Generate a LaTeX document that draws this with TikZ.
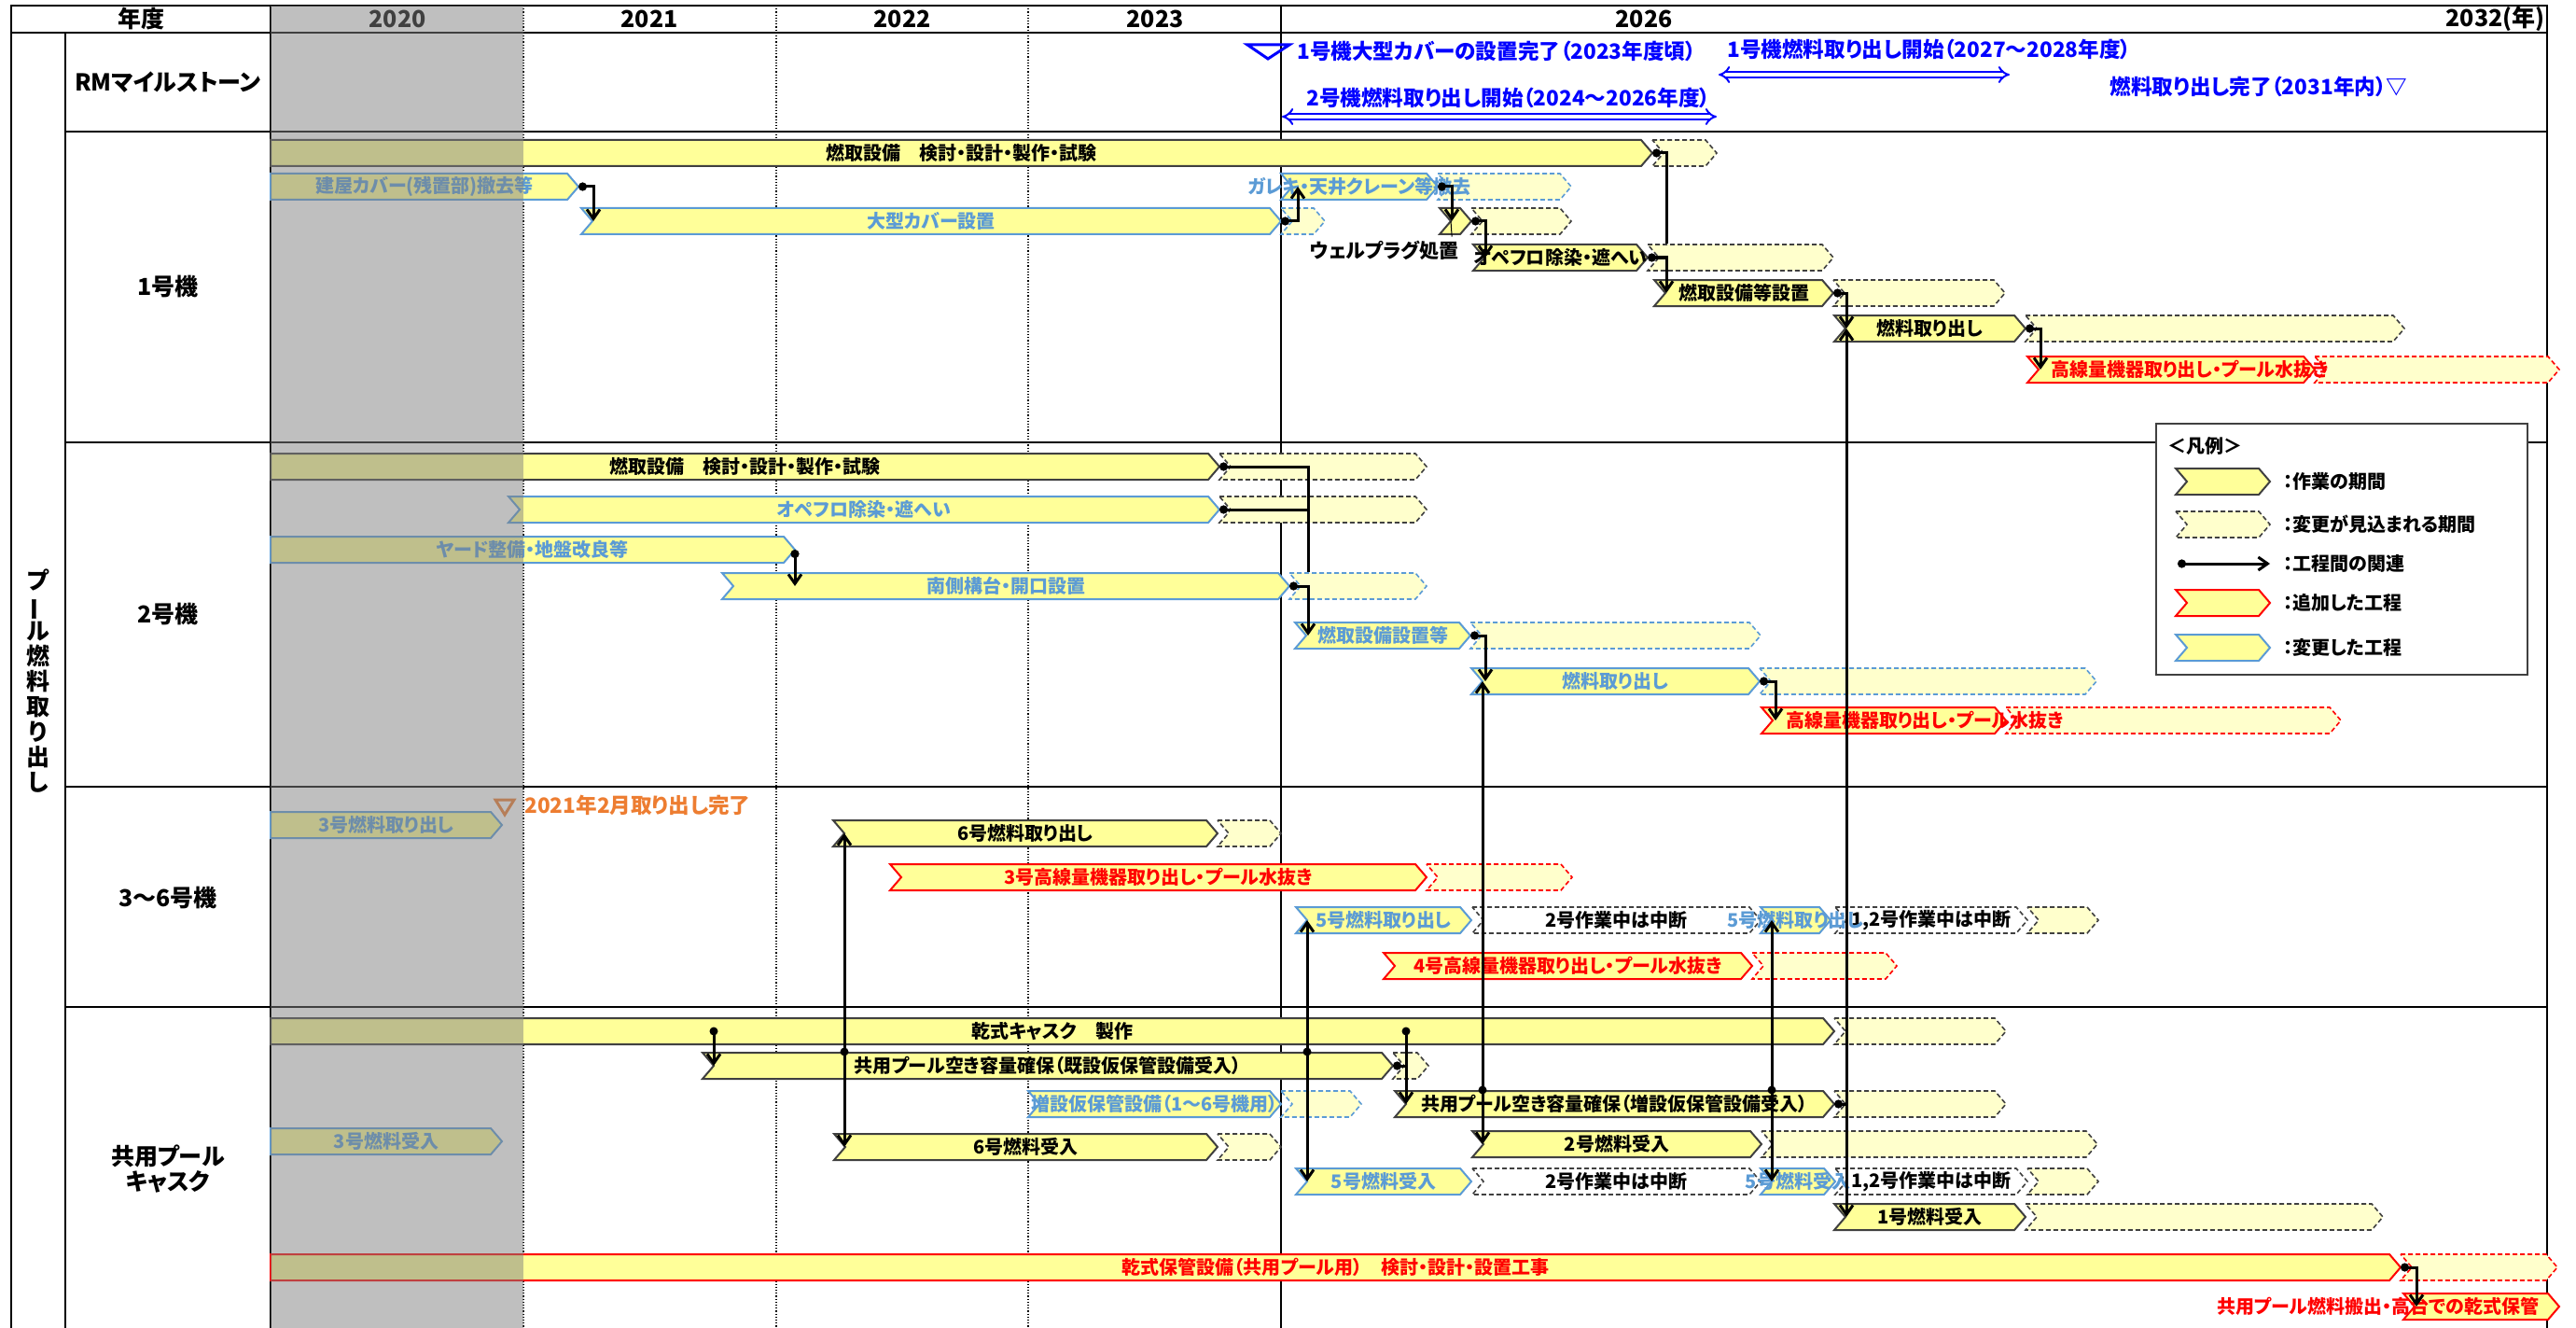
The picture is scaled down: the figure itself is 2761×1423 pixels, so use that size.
\documentclass[tikz,border=0pt]{standalone}
\usepackage{fontspec}
\setmainfont{Noto Sans CJK JP}[RawFeature=+palt]
\usepackage{tikz}
\usetikzlibrary{arrows.meta,calc}
\definecolor{barY}{HTML}{FFFF99}
\definecolor{extY}{HTML}{FFFFCC}
\definecolor{chgB}{HTML}{5B9BD5}
\definecolor{outK}{HTML}{404040}
\definecolor{mileB}{HTML}{0000FF}
\definecolor{orgT}{HTML}{ED7D31}
\definecolor{redR}{HTML}{FF0000}
\newcommand{\pbar}[7]{%
  \draw[#1] (#3,#5-14) -- (#4-12,#5-14) -- (#4,#5) -- (#4-12,#5+14) -- (#3,#5+14) -- (#3+#6,#5) -- cycle;
  \coordinate (#2-in) at (#3+#6,#5);
  \coordinate (#2-tip) at (#4,#5);
  \node[bartext,#1,draw=none,fill=none] (#2) at ({(#3+#4)/2},#5) {#7};}

\begin{document}
\begin{tikzpicture}[x=0.5pt, y=-0.5pt,
    bartext/.style={font=\bfseries\fontsize{10}{11}\selectfont, inner sep=0pt, minimum height=14pt},
    work/.style={draw=outK, fill=barY, text=black, line width=1pt},
    changed/.style={draw=chgB, fill=barY, text=chgB, line width=1pt},
    added/.style={draw=redR, fill=barY, text=redR, line width=1pt},
    expect/.style={draw=outK, fill=extY, line width=0.8pt, dash pattern=on 2.5pt off 1.5pt},
    expectchg/.style={expect, draw=chgB},
    expectadd/.style={expect, draw=redR},
    suspend/.style={expect, fill=white, text=black},
    dep/.style={line width=1.5pt, arrows={Circle[length=4.5pt]-Straight Barb[length=5pt,width=7pt]}},
    depdot/.style={line width=1.5pt, arrows={Circle[length=4.5pt]-}},
    deparr/.style={line width=1.5pt, arrows={-Straight Barb[length=5pt,width=7pt]}},
    unitlbl/.style={font=\bfseries\fontsize{12.5}{13.5}\selectfont, align=center, inner sep=0pt},
    miletext/.style={font=\bfseries\fontsize{11.3}{12}\selectfont, text=mileB, anchor=west, inner sep=0pt},
    milespan/.style={draw=mileB, double=white, double distance=2pt, line width=1pt, arrows={Implies-Implies}},
    legtext/.style={font=\bfseries\fontsize{10}{11}\selectfont, anchor=west, inner sep=0pt}]
  \useasboundingbox (0,0) rectangle (2761,1423);
  \draw[line width=1pt] (12,1423) -- (12,6) -- (2730,6) -- (2730,1423);
  \draw[line width=1pt] (12,35) -- (2730,35);
  \draw[line width=0.6pt] (70,35) -- (70,1423);
  \draw[line width=0.8pt] (290,6) -- (290,1423);
  \draw[line width=0.6pt] (1373,6) -- (1373,1423);
  \foreach \xx in {561,832,1102}
    \draw[line width=0.6pt, densely dotted] (\xx,6) -- (\xx,1423);
  \foreach \yy in {141,474,843,1079}
    \draw[line width=0.6pt] (70,\yy) -- (2730,\yy);

  \node[unitlbl] (hdYear) at (151,20) {年度};
  \foreach \yr/\xx in {2020/426,2021/696,2022/967,2023/1238,2026/1762}
    \node[unitlbl] (hd\yr) at (\xx,20) {\yr};
  \node[unitlbl, anchor=east] (hd2032) at (2728,20) {2032(年)};
  \node[unitlbl] (rowPool) at (41,730) {プ\\\rotatebox[origin=c]{90}{ー}\\ル\\燃\\料\\取\\り\\出\\し};
  \node[unitlbl] (rowRM) at (180,88) {RMマイルストーン};
  \node[unitlbl] (row1) at (180,307) {1号機};
  \node[unitlbl] (row2) at (180,658) {2号機};
  \node[unitlbl] (row36) at (180,962) {3～6号機};
  \node[unitlbl] (rowCP) at (180,1253) {共用プール\\キャスク};

  \draw[mileB, line width=1.5pt] (1337,48) -- (1382,48) -- (1359,63) -- cycle;
  \node[miletext] (ms1) at (1390,55) {1号機大型カバーの設置完了（2023年度頃）};
  \node[miletext] (ms2) at (1400,105) {2号機燃料取り出し開始（2024～2026年度）};
  \coordinate (ms2a) at (1374,125);
  \coordinate (ms2b) at (1840,125);
  \draw[milespan] (ms2a) -- (ms2b);
  \node[miletext] (ms3) at (1851,53) {1号機燃料取り出し開始（2027～2028年度）};
  \coordinate (ms3a) at (1842,80);
  \coordinate (ms3b) at (2154,80);
  \draw[milespan] (ms3a) -- (ms3b);
  \node[miletext] (ms4) at (2261,93) {燃料取り出し完了（2031年内）▽};

  \pbar{expect}{aFuelX}{1771}{1840}{164}{12}{}
  \pbar{expectchg}{aBigX}{1373}{1420}{237}{12}{}
  \pbar{expectchg}{aDebX}{1541}{1684}{200}{12}{}
  \pbar{expect}{aPlugX}{1577}{1684}{237}{12}{}
  \pbar{expect}{aOflX}{1766}{1965}{276}{12}{}
  \pbar{expect}{aInstX}{1965}{2149}{314}{12}{}
  \pbar{expect}{aRemX}{2171}{2577}{352}{12}{}
  \pbar{expectadd}{aHdX}{2481}{2743}{396}{12}{}
  \pbar{work}{aFuel}{290}{1771}{164}{0}{燃取設備　検討・設計・製作・試験}
  \pbar{changed}{aCov}{290}{620}{200}{0}{建屋カバー(残置部)撤去等}
  \pbar{changed}{aBig}{623}{1373}{237}{12}{大型カバー設置}
  \pbar{changed}{aDeb}{1373}{1541}{200}{12}{ガレキ・天井クレーン等撤去}
  \pbar{work}{aPlug}{1543}{1577}{237}{12}{}
  \pbar{work}{aOfl}{1579}{1766}{276}{12}{オペフロ除染・遮へい}
  \pbar{work}{aInst}{1773}{1965}{314}{12}{燃取設備等設置}
  \pbar{work}{aRem}{1966}{2171}{352}{12}{燃料取り出し}
  \pbar{added}{aHd}{2173}{2481}{396}{12}{}
  \node[bartext, text=redR] (aHdT) at (2347,396) {高線量機器取り出し・プール水抜き};
  \node[bartext, font=\bfseries\fontsize{10.5}{11}\selectfont] (wlab) at (1484,268) {ウェルプラグ処置};
  \draw[line width=0.5pt] ([xshift=-4pt]wlab.north east) -- (aPlug-in);

  \pbar{expect}{bFuelX}{1307}{1529}{500}{12}{}
  \pbar{expect}{bOflX}{1307}{1529}{546}{12}{}
  \pbar{expectchg}{bSouthX}{1382}{1529}{628}{12}{}
  \pbar{expectchg}{bInstX}{1576}{1887}{681}{12}{}
  \pbar{expectchg}{bRemX}{1886}{2247}{730}{12}{}
  \pbar{expectadd}{bHdX}{2150}{2509}{772}{12}{}
  \pbar{work}{bFuel}{290}{1307}{500}{0}{燃取設備　検討・設計・製作・試験}
  \pbar{changed}{bOfl}{545}{1307}{546}{12}{オペフロ除染・遮へい}
  \pbar{changed}{bYard}{290}{852}{589}{0}{ヤード整備・地盤改良等}
  \pbar{changed}{bSouth}{774}{1382}{628}{12}{南側構台・開口設置}
  \pbar{changed}{bInst}{1388}{1576}{681}{12}{燃取設備設置等}
  \pbar{changed}{bRem}{1577}{1886}{730}{12}{燃料取り出し}
  \pbar{added}{bHd}{1888}{2150}{772}{12}{}
  \node[bartext, text=redR] (bHdT) at (2063,772) {高線量機器取り出し・プール水抜き};

  \pbar{expect}{c6RemX}{1305}{1373}{893}{12}{}
  \pbar{expectadd}{c3HdX}{1529}{1685}{940}{12}{}
  \pbar{suspend}{c5Halt}{1578}{1887}{986}{12}{2号作業中は中断}
  \pbar{suspend}{c5HaltB}{1967}{2173}{986}{12}{1,2号作業中は中断}
  \pbar{expect}{c5X}{2173}{2249}{986}{12}{}
  \pbar{expectadd}{c4HdX}{1878}{2033}{1035}{12}{}
  \pbar{changed}{c3Rem}{290}{538}{884}{0}{3号燃料取り出し}
  \pbar{work}{c6Rem}{893}{1305}{893}{12}{6号燃料取り出し}
  \pbar{added}{c3Hd}{954}{1529}{940}{12}{3号高線量機器取り出し・プール水抜き}
  \pbar{changed}{c5Rem}{1389}{1577}{986}{12}{5号燃料取り出し}
  \pbar{changed}{c5RemB}{1887}{1962}{986}{12}{5号燃料取り出し}
  \pbar{added}{c4Hd}{1483}{1878}{1035}{12}{4号高線量機器取り出し・プール水抜き}
  \draw[orgT, line width=1.5pt] (531,857) -- (551,857) -- (541,873) -- cycle;
  \node[miletext, text=orgT] (done3) at (562,863) {2021年2月取り出し完了};

  \pbar{expect}{dCaskX}{1966}{2150}{1105}{12}{}
  \pbar{expect}{dOldX}{1493}{1531}{1142}{12}{}
  \pbar{expectchg}{dTmpX}{1373}{1459}{1183}{12}{}
  \pbar{expect}{dNewX}{1966}{2150}{1183}{12}{}
  \pbar{expect}{d6InX}{1305}{1373}{1229}{12}{}
  \pbar{expect}{d2InX}{1888}{2248}{1226}{12}{}
  \pbar{suspend}{d5Halt}{1578}{1887}{1266}{12}{2号作業中は中断}
  \pbar{suspend}{d5HaltB}{1967}{2173}{1266}{12}{1,2号作業中は中断}
  \pbar{expect}{d5X}{2173}{2249}{1266}{12}{}
  \pbar{expect}{d1InX}{2171}{2554}{1304}{12}{}
  \pbar{expectadd}{dDryX}{2573}{2741}{1358}{12}{}
  \pbar{work}{dCask}{290}{1966}{1105}{0}{乾式キャスク　製作}
  \pbar{work}{dOld}{753}{1493}{1142}{12}{共用プール空き容量確保（既設仮保管設備受入）}
  \pbar{changed}{dTmp}{1102}{1373}{1183}{12}{増設仮保管設備（1～6号機用）}
  \pbar{work}{dNew}{1495}{1966}{1183}{12}{共用プール空き容量確保（増設仮保管設備受入）}
  \pbar{changed}{d3In}{290}{538}{1223}{0}{3号燃料受入}
  \pbar{work}{d6In}{894}{1305}{1229}{12}{6号燃料受入}
  \pbar{work}{d2In}{1578}{1888}{1226}{12}{2号燃料受入}
  \pbar{changed}{d5In}{1389}{1577}{1266}{12}{5号燃料受入}
  \pbar{changed}{d5InB}{1887}{1967}{1266}{12}{5号燃料受入}
  \pbar{work}{d1In}{1966}{2171}{1304}{12}{1号燃料受入}
  \pbar{added}{dDry}{290}{2573}{1358}{0}{乾式保管設備（共用プール用）　検討・設計・設置工事}
  \pbar{added}{dOut}{2576}{2743}{1400}{12}{}
  \node[bartext, text=redR, anchor=east] (dOutT) at (2722,1400) {共用プール燃料搬出・高台での乾式保管};

  \draw[depdot] (aFuel-tip) -- ++(15,0) coordinate (k1) -- (k1 |- aOflX.north);
  \draw[dep] (aCov-tip) -- ++(16,0) coordinate (k2) -- (k2 |- aBig);
  \draw[dep] (aBig-tip) -- ++(18,0) coordinate (k3) -- (k3 |- aDeb);
  \draw[dep] (aDeb-tip) -- ++(15,0) coordinate (k4) -- (k4 |- aPlug);
  \draw[dep] (aPlug-tip) -- ++(15,0) coordinate (k5) -- (k5 |- aOfl);
  \draw[dep] (aOfl-tip) -- ++(20,0) coordinate (k6) -- (k6 |- aInst);
  \draw[dep] (aInst-tip) -- ++(14,0) coordinate (k7) -- (k7 |- aRem);
  \draw[dep] (aRem-tip) -- ++(16,0) coordinate (k8) -- (k8 |- aHd);

  \draw[depdot] (bFuel-tip) -- ++(95,0) coordinate (k9) -- (k9 |- bSouthX.north);
  \draw[depdot] (bOfl-tip) -- (k9 |- bOfl);
  \draw[dep] (bYard-tip) -- (bYard-tip |- bSouth);
  \draw[dep] (bSouth-tip) -- ++(20,0) coordinate (k12) -- (k12 |- bInst);
  \draw[dep] (bInst-tip) -- ++(16,0) coordinate (k13) -- (k13 |- bRem);
  \draw[dep] (bRem-tip) -- ++(17,0) coordinate (k14) -- (k14 |- bHd);

  \coordinate (p6) at (c6Rem-in |- dOld.north);
  \coordinate (p5) at (c5Rem-in |- dOld.north);
  \coordinate (p2) at (bRem-in |- dNew.north);
  \coordinate (p5b) at (c5RemB-in |- dNew.north);
  \coordinate (q1) at (dOld-in |- dCask);
  \coordinate (q2) at (dNew-in |- dCask);
  \foreach \pp in {p6,p5,p2,p5b,q1,q2}
    \fill (\pp) circle (4.5);
  \draw[deparr] (p6) -- (p6 |- c6Rem);
  \draw[deparr] (p6) -- (p6 |- d6In);
  \draw[deparr] (p5) -- (p5 |- c5Rem);
  \draw[deparr] (p5) -- (p5 |- d5In);
  \draw[deparr] (p2) -- (p2 |- bRem);
  \draw[deparr] (p2) -- (p2 |- d2In);
  \draw[deparr] (p5b) -- (p5b |- c5RemB);
  \draw[deparr] (p5b) -- (p5b |- d5InB);
  \draw[depdot] (dNew-tip) -- ++(13,0) coordinate (k19);
  \draw[deparr] (k19) -- (k19 |- aRem);
  \draw[deparr] (k19) -- (k19 |- d1In);
  \draw[deparr] (q1) -- (q1 |- dOld);
  \draw[deparr] (q2) -- (q2 |- dNew);
  \draw[depdot] (dOld-tip) -- (dOld-tip -| q2);
  \draw[dep] (dDry-tip) -- ++(17,0) coordinate (k22) -- (k22 |- dOut);

  \draw[draw=outK, fill=white, line width=0.6pt] (2311,454) rectangle (2709,723);
  \node[legtext] (lgTitle) at (2323,478) {＜凡例＞};
  \pbar{work}{lg1}{2332}{2433}{516}{12}{}
  \pbar{expect}{lg2}{2332}{2433}{562}{12}{}
  \coordinate (lg3a) at (2334,604);
  \coordinate (lg3b) at (2433,604);
  \draw[dep] (lg3a) -- (lg3b);
  \pbar{added}{lg4}{2332}{2433}{646}{12}{}
  \pbar{changed}{lg5}{2332}{2433}{694}{12}{}
  \node[legtext] (lgT1) at (2447,516) {：作業の期間};
  \node[legtext] (lgT2) at (2447,562) {：変更が見込まれる期間};
  \node[legtext] (lgT3) at (2447,604) {：工程間の関連};
  \node[legtext] (lgT4) at (2447,646) {：追加した工程};
  \node[legtext] (lgT5) at (2447,694) {：変更した工程};

  \fill[gray, opacity=0.5] (290,6) rectangle (561,1423);
\end{tikzpicture}
\end{document}
